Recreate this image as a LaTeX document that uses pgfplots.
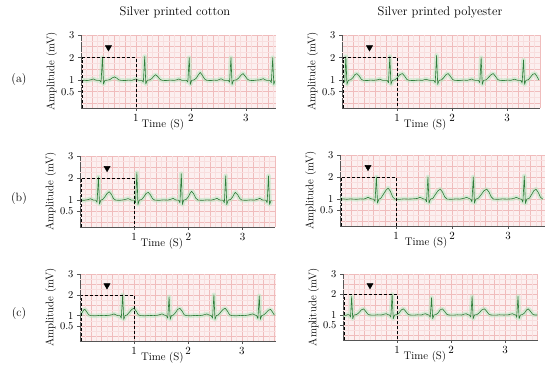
\documentclass[border=0pt]{standalone}
\usepackage{pgfplots}
\usepackage{pgfplotstable}
\pgfplotsset{compat=1.18}
\definecolor{ecg}{HTML}{2E7D3A}
\definecolor{glow}{HTML}{B5E6BE}
\definecolor{gridmaj}{HTML}{F0BCBC}
\definecolor{gridmin}{HTML}{F8DEDE}
\definecolor{paper}{HTML}{FCEFEF}
\definecolor{axgray}{HTML}{555555}

\pgfplotstableread{
t v
0.02 0.98
0.06 1.01
0.10 0.99
0.14 1.00
0.17 1.02
0.20 1.04
0.23 1.06
0.26 1.02
0.29 1.00
0.34 1.00
0.365 0.92
0.39 2.00
0.41 0.84
0.435 1.00
0.49 1.01
0.53 1.04
0.57 1.11
0.61 1.15
0.65 1.10
0.69 1.02
0.73 1.00
0.80 0.99
0.86 1.01
0.93 1.00
0.97 1.04
1.00 1.06
1.03 1.02
1.06 1.00
1.11 1.00
1.135 0.92
1.16 2.05
1.18 0.84
1.205 1.00
1.25 1.02
1.29 1.08
1.32 1.17
1.36 1.25
1.40 1.16
1.44 1.04
1.48 1.00
1.55 0.99
1.62 1.01
1.70 1.00
1.75 1.03
1.78 1.06
1.81 1.03
1.84 1.00
1.92 1.00
1.945 0.92
1.97 2.00
1.99 0.82
2.015 1.00
2.06 1.02
2.10 1.10
2.13 1.22
2.17 1.35
2.21 1.22
2.25 1.06
2.29 1.00
2.36 0.99
2.42 1.01
2.48 1.00
2.52 1.04
2.55 1.07
2.58 1.03
2.61 1.00
2.68 1.00
2.705 0.92
2.73 2.00
2.75 0.82
2.775 1.00
2.83 1.02
2.87 1.10
2.91 1.22
2.95 1.30
2.99 1.18
3.03 1.05
3.07 1.00
3.13 0.99
3.19 1.01
3.25 1.02
3.29 1.05
3.32 1.07
3.35 1.03
3.38 1.00
3.44 1.00
3.465 0.90
3.49 2.00
3.51 0.82
3.53 0.98
}\dataAL

\pgfplotstableread{
t v
0.03 1.00
0.05 0.92
0.07 2.05
0.09 0.82
0.115 1.00
0.16 1.03
0.20 1.12
0.23 1.24
0.27 1.30
0.31 1.20
0.35 1.05
0.39 1.00
0.46 0.99
0.52 1.01
0.58 1.00
0.64 1.02
0.68 1.05
0.71 1.03
0.74 1.00
0.82 1.00
0.845 0.90
0.87 2.05
0.89 0.82
0.915 1.00
0.96 1.02
1.00 1.10
1.05 1.25
1.10 1.30
1.14 1.18
1.18 1.04
1.22 1.00
1.30 0.99
1.38 1.01
1.46 1.00
1.50 1.03
1.53 1.05
1.56 1.02
1.60 1.00
1.67 1.00
1.695 0.90
1.72 2.10
1.74 0.82
1.765 1.00
1.81 1.02
1.85 1.12
1.89 1.25
1.93 1.30
1.97 1.18
2.01 1.04
2.05 1.00
2.13 0.99
2.21 1.01
2.28 1.00
2.32 1.03
2.36 1.06
2.39 1.02
2.42 1.00
2.48 1.00
2.505 0.90
2.53 2.00
2.55 0.82
2.575 1.00
2.62 1.02
2.66 1.12
2.71 1.25
2.75 1.30
2.79 1.18
2.83 1.04
2.87 1.00
2.94 0.99
3.01 1.01
3.07 1.00
3.11 1.03
3.14 1.05
3.17 1.02
3.20 1.00
3.25 1.00
3.275 0.88
3.30 1.90
3.32 0.82
3.345 1.00
3.39 1.03
3.43 1.15
3.47 1.27
3.51 1.30
3.55 1.15
3.58 1.02
}\dataAR

\pgfplotstableread{
t v
0.02 1.00
0.07 0.99
0.12 1.01
0.16 1.03
0.19 1.06
0.22 1.03
0.25 1.00
0.29 1.00
0.315 0.90
0.34 2.05
0.36 0.82
0.385 1.00
0.42 1.03
0.46 1.15
0.50 1.30
0.54 1.38
0.58 1.26
0.62 1.06
0.66 1.00
0.73 0.99
0.80 1.01
0.85 1.04
0.89 1.07
0.92 1.03
0.95 1.00
1.00 1.00
1.025 0.88
1.05 2.25
1.07 0.80
1.095 1.00
1.14 1.03
1.18 1.15
1.22 1.30
1.26 1.35
1.30 1.24
1.34 1.06
1.38 1.00
1.46 0.99
1.54 1.01
1.62 1.00
1.68 1.04
1.72 1.08
1.75 1.03
1.78 1.00
1.82 1.00
1.845 0.88
1.87 2.20
1.89 0.80
1.915 1.00
1.96 1.03
2.00 1.15
2.03 1.30
2.06 1.40
2.10 1.28
2.14 1.08
2.18 1.00
2.26 0.99
2.34 1.01
2.42 1.00
2.49 1.04
2.53 1.08
2.56 1.03
2.59 1.00
2.64 1.00
2.665 0.88
2.69 2.10
2.71 0.80
2.735 1.00
2.78 1.03
2.82 1.15
2.85 1.30
2.87 1.35
2.91 1.25
2.95 1.07
2.99 1.00
3.07 0.99
3.15 1.01
3.22 1.00
3.28 1.04
3.32 1.08
3.35 1.03
3.38 1.00
3.43 1.00
3.455 0.88
3.48 2.10
3.50 0.80
3.53 1.00
}\dataBL

\pgfplotstableread{
t v
0.00 1.00
0.06 1.01
0.12 0.99
0.18 1.01
0.24 1.00
0.30 0.99
0.36 1.01
0.42 1.00
0.46 1.03
0.50 1.08
0.54 1.03
0.58 1.00
0.60 1.00
0.625 0.90
0.65 2.00
0.67 0.82
0.695 1.00
0.73 1.04
0.77 1.20
0.82 1.40
0.86 1.50
0.90 1.35
0.94 1.10
0.98 1.00
1.06 0.99
1.14 1.01
1.22 1.00
1.30 1.01
1.38 1.03
1.43 1.08
1.47 1.03
1.50 1.00
1.52 1.00
1.545 0.88
1.57 2.00
1.59 0.82
1.615 1.00
1.66 1.04
1.70 1.20
1.75 1.38
1.79 1.45
1.83 1.32
1.87 1.10
1.91 1.00
1.99 0.99
2.07 1.01
2.14 1.00
2.22 1.04
2.26 1.08
2.30 1.03
2.33 1.00
2.355 0.88
2.38 2.00
2.40 0.82
2.425 1.00
2.47 1.04
2.52 1.20
2.57 1.38
2.62 1.45
2.66 1.32
2.70 1.10
2.74 1.00
2.82 0.99
2.90 1.01
2.98 1.00
3.06 1.01
3.11 1.04
3.15 1.08
3.19 1.03
3.22 1.00
3.24 1.00
3.265 0.86
3.29 2.05
3.31 0.80
3.335 1.00
3.38 1.04
3.42 1.20
3.46 1.38
3.50 1.45
3.54 1.30
3.58 1.08
3.62 1.00
}\dataBR

\pgfplotstableread{
t v
0.01 1.00
0.04 1.15
0.07 1.28
0.09 1.30
0.12 1.20
0.16 1.04
0.20 1.00
0.28 0.99
0.36 1.01
0.44 1.00
0.52 1.01
0.59 1.04
0.63 1.08
0.67 1.03
0.70 1.00
0.74 1.00
0.765 0.88
0.79 2.00
0.81 0.82
0.835 1.00
0.87 1.03
0.91 1.15
0.96 1.30
1.00 1.35
1.04 1.22
1.08 1.04
1.12 1.00
1.20 0.99
1.28 1.01
1.36 1.00
1.44 1.02
1.48 1.05
1.52 1.08
1.56 1.03
1.60 1.00
1.625 0.88
1.65 1.90
1.67 0.82
1.695 1.00
1.73 1.03
1.77 1.15
1.81 1.30
1.85 1.35
1.89 1.22
1.93 1.04
1.97 1.00
2.05 0.99
2.13 1.01
2.21 1.00
2.27 1.02
2.31 1.05
2.35 1.08
2.39 1.03
2.43 1.00
2.455 0.88
2.48 2.00
2.50 0.82
2.525 1.00
2.56 1.03
2.60 1.15
2.65 1.30
2.69 1.35
2.73 1.22
2.77 1.04
2.81 1.00
2.89 0.99
2.97 1.01
3.05 1.00
3.12 1.03
3.16 1.06
3.20 1.08
3.24 1.03
3.27 1.00
3.295 0.86
3.32 1.95
3.34 0.82
3.365 1.00
3.40 1.03
3.44 1.12
3.49 1.26
3.53 1.30
3.57 1.15
3.60 1.02
}\dataCL

\pgfplotstableread{
t v
0.01 1.00
0.05 0.98
0.09 1.02
0.12 1.00
0.14 0.90
0.16 1.90
0.18 0.82
0.205 1.00
0.25 1.02
0.29 1.10
0.34 1.25
0.38 1.30
0.42 1.18
0.46 1.04
0.50 1.00
0.57 0.99
0.64 1.01
0.71 1.00
0.76 1.04
0.80 1.06
0.83 1.02
0.86 1.00
0.885 0.90
0.91 2.00
0.93 0.82
0.955 1.00
1.00 1.02
1.04 1.10
1.08 1.25
1.12 1.30
1.16 1.18
1.20 1.04
1.24 1.00
1.31 0.99
1.38 1.01
1.45 1.00
1.49 1.04
1.53 1.06
1.56 1.02
1.59 1.00
1.615 0.90
1.64 1.85
1.66 0.82
1.685 1.00
1.72 1.02
1.76 1.10
1.80 1.25
1.84 1.30
1.88 1.18
1.92 1.04
1.96 1.00
2.04 0.99
2.12 1.01
2.20 1.00
2.24 1.04
2.28 1.06
2.31 1.02
2.34 1.00
2.365 0.90
2.39 1.90
2.41 0.82
2.435 1.00
2.48 1.02
2.52 1.10
2.57 1.25
2.62 1.30
2.66 1.18
2.70 1.04
2.74 1.00
2.82 0.99
2.90 1.01
2.98 1.00
3.06 1.01
3.10 1.04
3.14 1.06
3.17 1.02
3.20 1.00
3.215 0.88
3.24 1.90
3.26 0.82
3.285 1.00
3.32 1.02
3.36 1.10
3.40 1.25
3.43 1.30
3.47 1.18
3.51 1.04
3.55 1.00
3.60 1.00
}\dataCR

\pgfplotsset{ecgpanel/.style={
  scale only axis, anchor=south west,
  xmin=0, ymin=-0.22, ymax=3,
  axis x line*=bottom, axis y line*=left,
  axis line style={axgray, line width=0.5pt},
  axis background/.style={fill=paper},
  xtick={1,2,3}, ytick={0.5,1,2,3}, yticklabels={0.5,1,2,3},
  tick align=outside, major tick length=3pt,
  major tick style={axgray, line width=0.5pt},
  minor xtick={0,0.2,...,3.8}, minor ytick={0,0.5,...,3},
  minor tick length=0pt,
  grid=minor, minor grid style={gridmaj, line width=0.45pt},
  extra x ticks={0.1,0.3,...,3.7}, extra x tick labels={},
  extra y ticks={-0.25,0.25,...,2.75}, extra y tick labels={},
  extra tick style={grid=major, major grid style={gridmin, line width=0.3pt}, major tick style={draw=none}, major tick length=0pt},
  tick label style={font=\fontsize{10.5}{11}\selectfont},
  label style={font=\fontsize{11}{13}\selectfont},
  xlabel={Time (S)}, ylabel={Amplitude (mV)},
  xlabel style={at={(axis description cs:0.42,0)}, anchor=north, yshift=-8pt},
  ylabel style={yshift=-6pt},
}}

\newcommand{\panel}[1]{%
  \addplot[glow, line width=4.5pt, opacity=0.5, line join=round] table[x=t,y=v] {#1};
  \addplot[ecg, line width=0.6pt, line join=round] table[x=t,y=v] {#1};
  \addplot[black, densely dashed, line width=0.6pt] coordinates {(0.02,-0.22) (0.02,2) (1,2) (1,-0.22)};
  \addplot[only marks, mark=triangle*, mark size=3.6pt, mark options={rotate=180, fill=black, draw=black}] coordinates {(0.5,2.45)};
}

\begin{document}
\begin{tikzpicture}
\path[use as bounding box] (0,0) rectangle (550pt,367pt);

\node[font=\fontsize{12.5}{14}\selectfont] at (175pt,355pt) {Silver printed cotton};
\node[font=\fontsize{12.5}{14}\selectfont] at (440pt,355pt) {Silver printed polyester};

\node[font=\fontsize{12}{14}\selectfont] at (19pt,287pt) {(a)};
\node[font=\fontsize{12}{14}\selectfont] at (19pt,168pt) {(b)};
\node[font=\fontsize{12}{14}\selectfont] at (19pt,53pt) {(c)};

\begin{axis}[ecgpanel, at={(81pt,259pt)}, width=195pt, height=73pt, xmax=3.55]
\panel{\dataAL}
\end{axis}
\begin{axis}[ecgpanel, at={(342pt,259pt)}, width=198pt, height=73pt, xmax=3.6]
\panel{\dataAR}
\end{axis}
\begin{axis}[ecgpanel, at={(80pt,140pt)}, width=195pt, height=71pt, xmax=3.6]
\panel{\dataBL}
\end{axis}
\begin{axis}[ecgpanel, at={(340pt,141pt)}, width=205pt, height=71pt, xmax=3.66]
\panel{\dataBR}
\end{axis}
\begin{axis}[ecgpanel, at={(80pt,26pt)}, width=196pt, height=67pt, xmax=3.63]
\panel{\dataCL}
\end{axis}
\begin{axis}[ecgpanel, at={(343pt,27pt)}, width=195pt, height=66pt, xmax=3.61]
\panel{\dataCR}
\end{axis}
\end{tikzpicture}
\end{document}
